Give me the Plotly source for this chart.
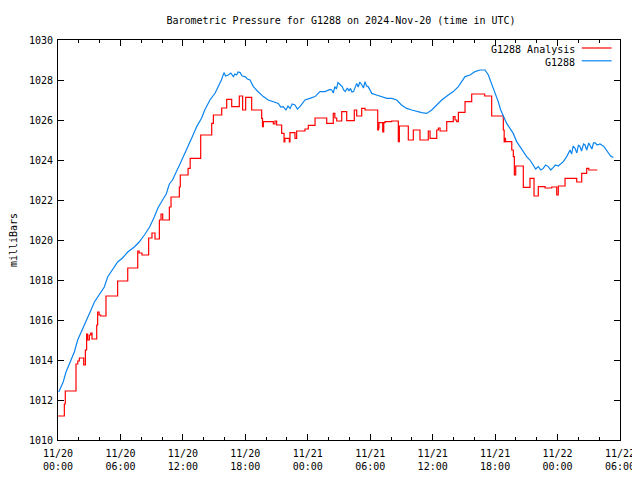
import pandas as pd
import plotly.graph_objects as go

BASE = pd.Timestamp("2024-11-20 00:00")

# G1288 observed pressure (hours since 2024-11-20 00:00 UTC, mbar)
obs_hours = [0.07, 0.5, 0.77, 1.15, 1.57, 1.89, 2.2, 2.7, 3.17, 3.5, 3.97, 4.45, 4.77, 5.25,
             5.73, 6.2, 6.7, 7.33, 7.8, 8.3, 8.8, 9.25, 9.6, 10.05, 10.4, 10.7, 11.0, 11.72,
             12.37, 12.85, 13.33, 13.8, 14.1, 14.6, 15.1, 15.4, 15.7,
             15.95, 16.1, 16.37, 16.6, 16.85, 17.0, 17.17, 17.3, 17.5, 17.7, 17.97, 18.2, 18.45,
             18.77, 19.25, 19.73, 20.2, 20.7,
             21.17, 21.4, 21.65, 21.9, 22.1, 22.3, 22.5, 22.77, 23.0, 23.25,
             23.73, 24.2, 24.7, 25.17, 25.66, 26.14,
             26.3, 26.45, 26.6, 26.75, 26.9, 27.05, 27.3, 27.45, 27.6, 27.8, 27.95, 28.1, 28.25,
             28.4, 28.55, 28.7, 28.85, 29.0, 29.2, 29.35, 29.5, 29.65, 29.8, 29.95, 30.15,
             30.6, 31.1, 31.6, 32.07, 32.55, 33.0, 33.5, 33.99, 34.47, 34.95, 35.43, 35.91,
             36.39, 36.87, 37.5, 37.98, 38.47, 38.79, 39.11, 39.59, 40.07, 40.55, 40.97,
             41.03, 41.35, 41.67, 41.99, 42.3, 42.54, 42.85, 43.11, 43.43, 43.74, 44.07, 44.39,
             44.71, 45.03, 45.35,
             45.67, 45.9, 46.15, 46.4, 46.63, 46.85, 47.11, 47.35, 47.59, 47.8, 48.07,
             48.55, 48.88,
             49.2, 49.35, 49.5, 49.68, 49.85, 50.0, 50.16, 50.3, 50.5, 50.64, 50.8, 51.0, 51.12,
             51.3, 51.45, 51.6, 51.8, 52.08,
             52.46, 52.78, 53.1, 53.36]
obs_values = [1012.4, 1012.9, 1013.4, 1013.9, 1014.4, 1015.0, 1015.35, 1015.9, 1016.5, 1016.9,
              1017.3, 1017.65, 1018.15, 1018.5, 1018.9, 1019.1, 1019.4, 1019.65, 1019.9,
              1020.25, 1020.65, 1021.15, 1021.6, 1022.0, 1022.3, 1022.8, 1023.0, 1023.8,
              1024.5, 1025.1, 1025.67, 1026.1, 1026.5, 1027.0, 1027.35, 1027.67, 1028.0,
              1028.37, 1028.2, 1028.25, 1028.35, 1028.17, 1028.3, 1028.25, 1028.4, 1028.37,
              1028.2, 1028.17, 1028.05, 1028.0,
              1027.67, 1027.4, 1027.17, 1027.0, 1026.9,
              1026.83, 1026.65, 1026.67, 1026.5, 1026.7, 1026.58, 1026.8, 1026.75, 1026.55,
              1026.67,
              1027.0, 1027.08, 1027.17, 1027.42, 1027.42, 1027.53,
              1027.5, 1027.35, 1027.67, 1027.55, 1027.87, 1027.8, 1027.67, 1027.5, 1027.42,
              1027.6, 1027.45, 1027.58, 1027.4, 1027.42, 1027.6, 1027.83, 1027.65, 1027.9,
              1027.75, 1027.6, 1027.92, 1027.7, 1027.67, 1027.5, 1027.33,
              1027.25, 1027.17, 1027.08, 1027.08, 1027.0, 1026.75, 1026.58, 1026.5, 1026.42,
              1026.37, 1026.33, 1026.5, 1026.75, 1027.0, 1027.25, 1027.42, 1027.67, 1027.92,
              1028.17, 1028.25, 1028.42, 1028.5, 1028.47,
              1028.5, 1028.25, 1027.83, 1027.42, 1026.92, 1026.5, 1026.17, 1025.83, 1025.58,
              1025.33, 1024.92, 1024.67, 1024.42, 1024.17, 1024.0,
              1023.75, 1023.55, 1023.67, 1023.5, 1023.58, 1023.75, 1023.67, 1023.5, 1023.63,
              1023.75, 1023.7,
              1023.92, 1024.17,
              1024.5, 1024.3, 1024.7, 1024.58, 1024.35, 1024.75, 1024.67, 1024.45, 1024.8,
              1024.75, 1024.5, 1024.85, 1024.75, 1024.55, 1024.85, 1024.87, 1024.75, 1024.8,
              1024.67, 1024.42, 1024.2, 1024.12]

# G1288 Analysis (step values)
ana_hours = [0.0, 0.61, 0.7, 1.73, 1.9, 2.05, 2.47, 2.63, 2.75, 2.85, 3.01, 3.15, 3.27, 3.72,
             3.81, 3.95, 4.1, 4.61, 5.73, 6.7, 7.66, 7.8, 8.07, 8.71, 9.03, 9.32, 9.74, 9.9,
             10.06, 10.7, 10.86, 11.66, 11.75, 12.5, 12.7, 13.71, 14.77, 14.93, 15.73, 16.21,
             16.69, 17.42, 17.74, 18.03, 18.61, 19.57, 19.65, 19.73, 20.69, 20.85, 21.01,
             21.49, 21.72, 21.8, 22.23, 22.29, 22.77, 22.93, 23.73, 24.05, 24.7, 25.82, 26.45,
             26.6, 26.78, 27.26, 27.74, 28.47, 28.7, 29.18, 29.5, 30.72, 30.8, 30.84, 31.2,
             31.3, 31.42, 32.06, 32.7, 32.8, 33.66, 34.14, 34.78, 35.58, 35.75, 36.39, 36.55,
             36.71, 37.35, 37.98, 38.15, 38.31, 38.47, 39.11, 39.75, 41.0, 41.67, 42.79, 42.87,
             42.95, 43.0, 43.6, 43.75, 43.85, 43.98, 44.71, 45.35, 45.74, 46.15, 46.8, 47.44,
             47.92, 48.07, 48.72, 49.84, 50.32, 50.8, 51.0, 51.76]
ana_values = [1011.2, 1011.8, 1012.45, 1013.8, 1013.95, 1014.1, 1013.75, 1014.5, 1015.3, 1015.0,
              1015.25, 1015.35, 1015.05, 1015.75, 1016.4, 1016.25, 1016.2, 1017.2, 1017.95,
              1018.6, 1019.45, 1019.35, 1019.25, 1020.1, 1020.35, 1020.05, 1021.0, 1021.3,
              1021.0, 1021.65, 1022.15, 1022.65, 1023.25, 1023.58, 1024.08, 1025.25, 1025.83,
              1026.25, 1026.6, 1027.03, 1026.67, 1027.2, 1026.5, 1027.13, 1026.5, 1026.08,
              1025.67, 1025.92, 1025.8, 1025.95, 1025.75, 1025.33, 1024.9, 1025.08, 1024.9,
              1025.37, 1025.08, 1025.45, 1025.55, 1025.73, 1026.1, 1025.83, 1026.33, 1026.1,
              1025.95, 1026.42, 1025.97, 1026.5, 1026.2, 1026.58, 1026.5, 1025.5, 1025.6,
              1025.87, 1025.4, 1025.87, 1025.92, 1025.95, 1024.92, 1025.7, 1025.0, 1025.5,
              1025.0, 1025.45, 1025.08, 1025.5, 1025.6, 1025.45, 1025.92, 1026.17, 1026.0,
              1025.92, 1026.38, 1026.92, 1027.3, 1027.2, 1026.2, 1025.5, 1024.9, 1025.08,
              1024.92, 1024.5, 1024.17, 1023.25, 1023.7, 1022.63, 1023.08, 1022.2, 1022.67,
              1022.6, 1022.65, 1022.25, 1022.7, 1023.08, 1022.9, 1023.33, 1023.58, 1023.5,
              1023.52]

tick_hours = [0, 6, 12, 18, 24, 30, 36, 42, 48, 54]
tick_labels = ["11/20<br>00:00", "11/20<br>06:00", "11/20<br>12:00", "11/20<br>18:00",
               "11/21<br>00:00", "11/21<br>06:00", "11/21<br>12:00", "11/21<br>18:00",
               "11/22<br>00:00", "11/22<br>06:00"]

assert len(obs_hours) == len(obs_values)
assert len(ana_hours) == len(ana_values)


def to_time(hours):
    return [BASE + pd.Timedelta(hours=h) for h in hours]


RED = "#ff0000"
BLUE = "#0a84f0"
FONT = "DejaVu Sans Mono"
FS = 10
W, H = 632, 472  # page body has an 8px margin inside the 640x480 window

fig = go.Figure()
fig.add_trace(go.Scatter(x=to_time(ana_hours), y=ana_values, mode="lines",
                         line=dict(color=RED, width=1.2, shape="hv"),
                         name="G1288 Analysis", showlegend=False))
fig.add_trace(go.Scatter(x=to_time(obs_hours), y=obs_values, mode="lines",
                         line=dict(color=BLUE, width=1.2),
                         name="G1288", showlegend=False))

# gnuplot-style key (text left of the line sample)
key = [("G1288 Analysis", RED, 0.977), ("G1288", BLUE, 0.945)]
for text, col, yk in key:
    fig.add_annotation(x=0.924, y=yk, xref="paper", yref="paper", text=text,
                       showarrow=False, xanchor="right", yanchor="middle",
                       font=dict(family=FONT, size=FS, color="black"))
    fig.add_shape(type="line", xref="paper", yref="paper", x0=0.932, x1=0.985,
                  y0=yk + 0.003, y1=yk + 0.003, line=dict(color=col, width=1.2))

fig.update_layout(
    width=W, height=H,
    margin=dict(l=50, r=20, t=32, b=40, autoexpand=False),
    paper_bgcolor="white", plot_bgcolor="white",
    font=dict(family=FONT, size=FS, color="black"),
    title=dict(text="Barometric Pressure for G1288 on 2024-Nov-20 (time in UTC)",
               x=333 / W, xanchor="center", xref="container",
               y=1 - 12 / H, yanchor="middle", yref="container",
               automargin=False, font=dict(family=FONT, size=FS)),
    showlegend=False,
)
fig.update_xaxes(
    range=[BASE, BASE + pd.Timedelta(hours=54)],
    tickvals=to_time(tick_hours), ticktext=tick_labels,
    ticks="inside", ticklen=6, tickcolor="black", tickwidth=1,
    minor=dict(ticks="inside", ticklen=3, dtick=2 * 3600 * 1000, tickcolor="black"),
    showline=True, linecolor="black", linewidth=1, mirror="allticks",
    showgrid=False, zeroline=False, tickfont=dict(family=FONT, size=FS),
    automargin=False, ticklabelstandoff=4,
)
fig.update_yaxes(
    range=[1010, 1030], dtick=2, tick0=1010,
    ticks="inside", ticklen=6, tickcolor="black", tickwidth=1,
    showline=True, linecolor="black", linewidth=1, mirror="allticks",
    showgrid=False, zeroline=False, tickfont=dict(family=FONT, size=FS),
    automargin=False, ticklabelstandoff=2,
    title=dict(text="milliBars", font=dict(family=FONT, size=FS), standoff=12),
)

fig.write_html("out.html")
